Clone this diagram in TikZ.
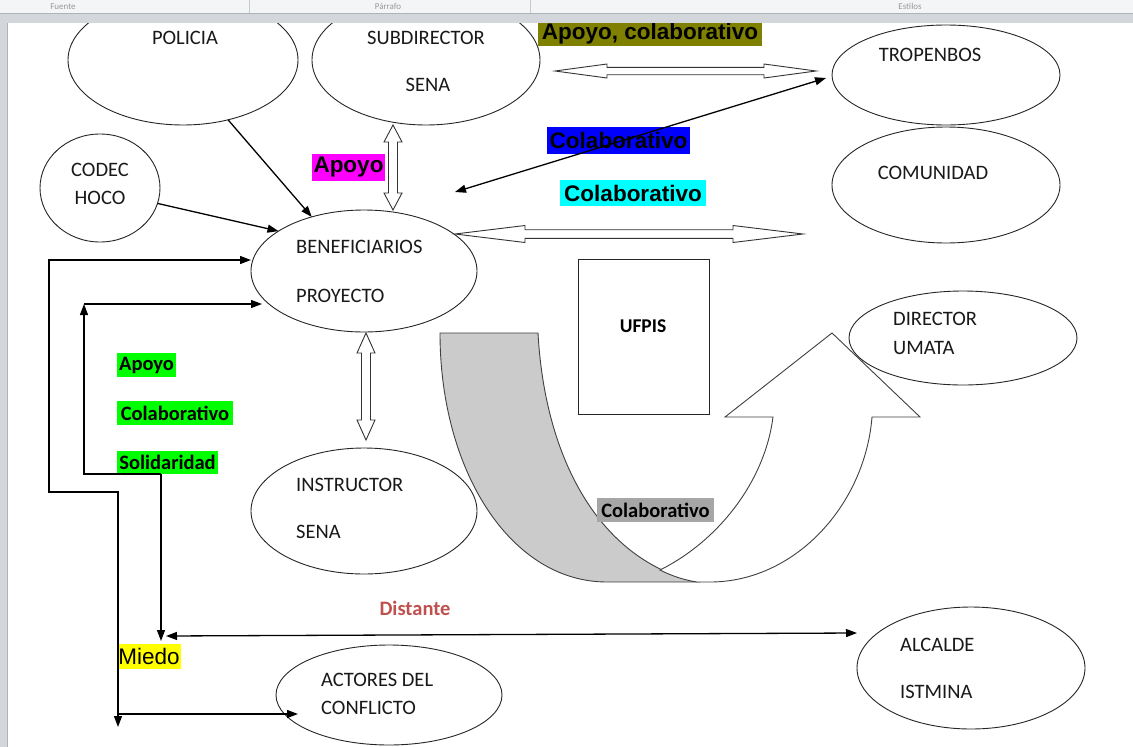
\documentclass[tikz,border=0pt]{standalone}
\usepackage{fontspec}
\setmainfont{Carlito}
\newfontfamily\arialf{Liberation Sans}
\usetikzlibrary{arrows.meta,shapes.geometric,calc}
\definecolor{olivebg}{HTML}{808000}
\definecolor{bluebg}{HTML}{0000FF}
\definecolor{cyanbg}{HTML}{00FFFF}
\definecolor{magbg}{HTML}{FF00FF}
\definecolor{greenbg}{HTML}{00FF00}
\definecolor{yellowbg}{HTML}{FFFF00}
\definecolor{graylab}{HTML}{A6A6A6}
\definecolor{grayfill}{HTML}{CBCBCB}
\definecolor{redtxt}{HTML}{C0504D}
\definecolor{barlight}{HTML}{F4F5F7}
\definecolor{bardark}{HTML}{D3D7DC}
\definecolor{barline}{HTML}{AEB3BA}
\newcommand{\hdarr}[6]{%
  \draw[blockarr] (#1,#3) -- (#1+#6,#3-#5) -- (#1+#6,#3-#4) -- (#2-#6,#3-#4) -- (#2-#6,#3-#5) -- (#2,#3)
    -- (#2-#6,#3+#5) -- (#2-#6,#3+#4) -- (#1+#6,#3+#4) -- (#1+#6,#3+#5) -- cycle;}
\newcommand{\vdarr}[6]{%
  \draw[blockarr] (#1,#2) -- (#1+#5,#2+#6) -- (#1+#4,#2+#6) -- (#1+#4,#3-#6) -- (#1+#5,#3-#6) -- (#1,#3)
    -- (#1-#5,#3-#6) -- (#1-#4,#3-#6) -- (#1-#4,#2+#6) -- (#1-#5,#2+#6) -- cycle;}
\begin{document}
\begin{tikzpicture}[x=1pt,y=-1pt,
  ell/.style={draw=black!85, line width=0.9pt, ellipse, inner sep=0pt, outer sep=0pt},
  etext/.style={font=\fontsize{20.5}{24}\selectfont, inner sep=0pt, text=black!90},
  lab/.style={font=\arialf\bfseries\fontsize{22.5}{24}\selectfont, inner sep=0pt, text=black},
  glab/.style={font=\bfseries\fontsize{20.5}{24}\selectfont, inner sep=0pt, text=black},
  blockarr/.style={draw=black!80, line width=0.9pt, fill=white},
  arr/.style={line width=1.3pt, draw=black, -{Triangle[length=11pt,width=8pt]}},
  darr/.style={line width=1.3pt, draw=black, {Triangle[length=11pt,width=8pt]}-{Triangle[length=11pt,width=8pt]}},
  shapeline/.style={draw=black!75, line width=0.9pt},
  tbtext/.style={font=\fontsize{9}{9}\selectfont, text=black!40, anchor=base, inner sep=0pt}]
\useasboundingbox (0,0) rectangle (1133,747);
\fill[white] (0,0) rectangle (1133,747);

% curved U-turn block arrow
\draw[shapeline, fill=grayfill] (440,333) -- (538,333) .. controls (545,460) and (600,560) .. (697,582)
  -- (607,582) .. controls (510,582) and (440,470) .. (440,333) -- cycle;
\draw[shapeline, fill=white] (660,570) .. controls (672,576) and (684,580) .. (697,582) -- (710,582)
  .. controls (795,582) and (865,505) .. (872,417)
  -- (920,417) -- (832,333) -- (725,417) -- (773,417) .. controls (765,480) and (720,540) .. (660,570) -- cycle;

% ellipses
\node[ell, minimum width=230pt, minimum height=130pt] (policia) at (183,60) {};
\node[ell, minimum width=228pt, minimum height=130pt] (subdir) at (426,60) {};
\node[ell, minimum width=228pt, minimum height=100pt] (tropen) at (946,75) {};
\node[ell, minimum width=228pt, minimum height=116pt] (comun) at (946,185) {};
\node[ell, minimum width=120pt, minimum height=108pt] (codec) at (100,188) {};
\node[ell, minimum width=226pt, minimum height=122pt] (benef) at (364,271) {};
\node[ell, minimum width=226pt, minimum height=126pt] (instr) at (364,511) {};
\node[ell, minimum width=226pt, minimum height=100pt] (actores) at (389,695) {};
\node[ell, minimum width=228pt, minimum height=122pt] (alcalde) at (971,668) {};
\node[ell, minimum width=228pt, minimum height=94pt] (director) at (963,338) {};
\node[draw=black!85, line width=0.9pt, minimum width=131pt, minimum height=155pt, inner sep=0pt] (ufpis) at (643.5,336.5) {};

% ellipse texts
\node[etext] (tpol) at (185,38) {POLICIA};
\node[etext] (tsub1) at (426,38) {SUBDIRECTOR};
\node[etext] (tsub2) at (428,85) {SENA};
\node[etext] (ttro) at (930,55) {TROPENBOS};
\node[etext] (tcom) at (933,173) {COMUNIDAD};
\node[etext] (tcod1) at (100,170) {CODEC};
\node[etext] (tcod2) at (100,198) {HOCO};
\node[etext, anchor=west] (tben1) at (296,247) {BENEFICIARIOS};
\node[etext, anchor=west] (tben2) at (296,296) {PROYECTO};
\node[etext, anchor=west] (tins1) at (296,485) {INSTRUCTOR};
\node[etext, anchor=west] (tins2) at (296,532) {SENA};
\node[etext, anchor=west] (tact1) at (321,680) {ACTORES DEL};
\node[etext, anchor=west] (tact2) at (321,708) {CONFLICTO};
\node[etext, anchor=west] (talc1) at (900,645) {ALCALDE};
\node[etext, anchor=west] (talc2) at (900,692) {ISTMINA};
\node[etext, anchor=west] (tdir1) at (893,319) {DIRECTOR};
\node[etext, anchor=west] (tdir2) at (893,348) {UMATA};
\node[glab, font=\bfseries\fontsize{19.5}{24}\selectfont] (tufp) at (643,326) {UFPIS};

% highlighted labels
\node[lab, fill=olivebg, minimum width=224pt, minimum height=24pt] (lapcol) at (650,34) {Apoyo, colaborativo};
\node[lab, fill=bluebg, minimum width=143pt, minimum height=27pt] (lcolblue) at (618.5,140.5) {Colaborativo};
\node[lab, fill=cyanbg, minimum width=146pt, minimum height=26pt] (lcolcyan) at (633,193) {Colaborativo};
\node[lab, fill=magbg, minimum width=73pt, minimum height=27pt] (lapoyo) at (348.5,167.5) {Apoyo};
\node[glab, fill=greenbg, minimum width=59pt, minimum height=24pt] (gapoyo) at (146.5,365) {Apoyo};
\node[glab, fill=greenbg, minimum width=116pt, minimum height=24pt] (gcol) at (175,413) {Colaborativo};
\node[glab, fill=greenbg, minimum width=101pt, minimum height=23pt] (gsol) at (167.5,462.5) {Solidaridad};
\node[glab, fill=graylab, minimum width=117pt, minimum height=24pt] (lcolgray) at (655.5,510) {Colaborativo};
\node[glab, text=redtxt] (ldist) at (415,608) {Distante};
\node[lab, font=\arialf\fontsize{22.5}{24}\selectfont, fill=yellowbg, minimum width=64pt, minimum height=25pt] (lmiedo) at (149,656.5) {Miedo};

% block double arrows
\hdarr{555}{816}{71}{3.7}{7}{52}
\hdarr{455}{803}{234}{4.3}{8.5}{70}
\vdarr{393}{125}{210}{4.5}{9}{17}
\vdarr{366}{333}{440}{4.5}{9}{20}

% line connectors
\draw[arr] (policia.-53) -- (benef.134);
\draw[arr] (codec.-15) -- (benef.155);
\coordinate (trofree) at (455,192);
\draw[darr] (trofree) -- ($(tropen.west |- 0,78)+(-6,0)$);
\coordinate (c1) at (49,260);
\coordinate (c2) at (49,492);
\coordinate (c3) at (118,492);
\coordinate (c4) at (118,727);
\coordinate (c5) at (118,714);
\coordinate (actin) at ($(actores.center)+(-91,19)$);
\draw[darr] (c4) -- (c3) -- (c2) -- (c1) -- (benef.west |- 0,260);
\draw[arr] (c5) -- (actin);
\coordinate (d1) at (84,304);
\coordinate (d2) at (84,474);
\coordinate (d3) at (161,474);
\coordinate (d4) at (161,641);
\draw[arr] (d3) -- (d2) -- (d1);
\draw[arr] (d3) -- (d4);
\draw[arr] (d1) -- (262,304);
\coordinate (dleft) at (166,636);
\draw[darr] (dleft) -- (alcalde.west |- 0,633);

% window chrome
\fill[barlight] (0,0) rectangle (1133,13);
\fill[bardark] (0,13) rectangle (1133,23);
\draw[barline, line width=1pt] (0,13.5) -- (1133,13.5);
\draw[barline!70, line width=0.6pt] (249,0) -- (249,13);
\draw[barline!70, line width=0.6pt] (530,0) -- (530,13);
\node[tbtext] (tbf) at (63,9) {Fuente};
\node[tbtext] (tbp) at (388,9) {Párrafo};
\node[tbtext] (tbe) at (910,9) {Estilos};
\fill[bardark] (0,23) rectangle (7,747);
\draw[barline, line width=1pt] (7.5,23) -- (7.5,747);
\end{tikzpicture}
\end{document}
